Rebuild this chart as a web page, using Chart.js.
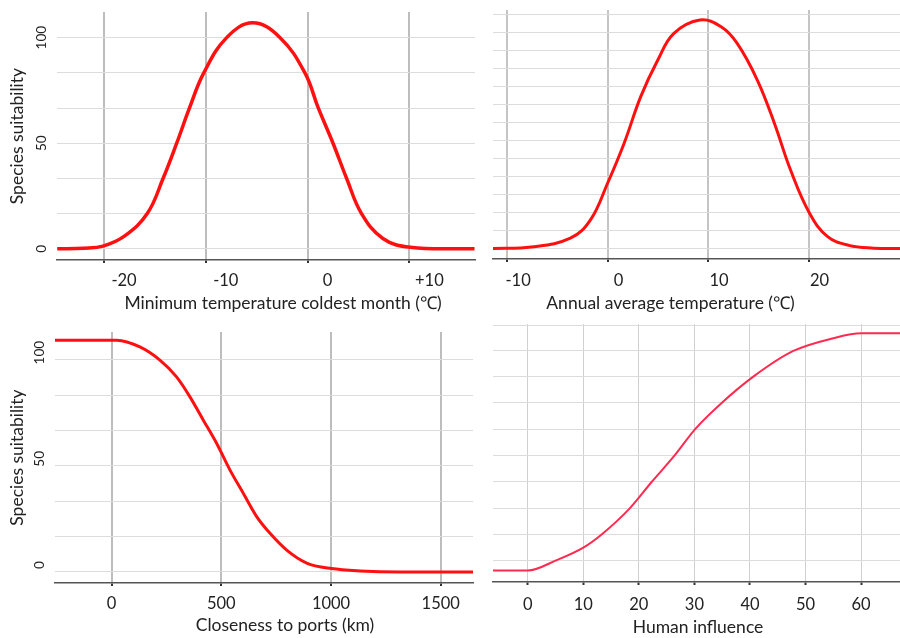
<!DOCTYPE html>
<html>
<head>
<meta charset="utf-8">
<script src="https://cdn.jsdelivr.net/npm/chart.js@4.4.1/dist/chart.umd.min.js"></script>
<style>
  body { margin: 0; background: #fff; }
  #wrap { position: relative; width: 900px; height: 638px; overflow: hidden; }
  #wrap canvas { position: absolute; }
</style>
</head>
<body>
<div id="wrap">
  <canvas id="c1" width="480" height="320" style="left:0;top:0"></canvas>
  <canvas id="c2" width="420" height="320" style="left:480px;top:0"></canvas>
  <canvas id="c3" width="480" height="318" style="left:0;top:320px"></canvas>
  <canvas id="c4" width="420" height="318" style="left:480px;top:320px"></canvas>
</div>
<script>
// Minimum temperature coldest month
const tminX = [-24.6, -22, -20.1, -18, -15.75, -14.2, -12.86, -11.6, -10.2, -7.95, -5.4, -2.7, -0.26, 1.05, 2.5, 3.84, 5.3, 7.4, 10.1, 16.4];
const tminY = [0, 0.3, 1.3, 6, 16.7, 33.3, 50, 66.7, 83.3, 100, 107, 100, 83.3, 66.7, 50, 33.3, 16.7, 4.9, 0.7, 0];
const tminTicks = [-20, -10, 0, 10];
const tminLabels = ['-20', '-10', '0', '+10'];

// Annual average temperature
const tavgX = [-11.4, -7.6, -3.7, -1.7, 0, 1.65, 3.3, 5.0, 6.6, 9.2, 11.3, 12.9, 14.9, 16.6, 18.2, 20.1, 21.9, 24, 26.5, 29.1];
const tavgY = [0, 0.7, 4.9, 13.5, 30.7, 49.5, 71.4, 88.6, 101.1, 107.4, 104.2, 96.4, 79.2, 58.9, 37, 16.6, 5.6, 1.5, 0.2, 0];
const tavgTicks = [-10, 0, 10, 20];
const tavgLabels = ['-10', '0', '10', '20'];

// Closeness to ports (km)
const portX = [-258, 23, 129, 220, 296, 357, 418, 479, 539, 600, 661, 722, 798, 889, 1003, 1132, 1315, 1647];
const portY = [109.2, 109.2, 106, 99.8, 91.9, 82.5, 71.5, 60.5, 48.1, 37.1, 26.1, 18.2, 10.3, 4.2, 1.6, 0.5, 0, 0];
const portTicks = [0, 500, 1000, 1500];
const portLabels = ['0', '500', '1000', '1500'];

// Human influence
const humanX = [-6.25, 0, 5.2, 10, 13.3, 18.4, 22.3, 26.4, 30.1, 34.9, 40.6, 47.8, 55, 60, 67];
const humanY = [0.5, 0.5, 5.4, 11.3, 17.5, 29.9, 42.2, 54.6, 67.0, 79.4, 91.8, 103.9, 109.9, 112.2, 112.2];
const humanTicks = [0, 10, 20, 30, 40, 50, 60];
const humanLabels = ['0', '10', '20', '30', '40', '50', '60'];

// suitability axis
const suitTicks = [0, 16.67, 33.33, 50, 66.67, 83.33, 100];
const suitLabels = ['0', '', '', '50', '', '', '100'];
const tavgGrid = [0, 8.45, 16.9, 25.35, 33.8, 42.25, 50.7, 59.15, 67.6, 76.05, 84.5, 92.95, 101.4, 109.85];
const humanGrid = [5.4, 17.5, 29.9, 42.2, 54.6, 67.0, 79.4, 91.8, 103.9, 116.1];

const FONT = 'Lato, "Open Sans", sans-serif';
const TEXT = '#222';

// caption under the x axis, shifted like in the original figure
const captionPlugin = {
    id: 'caption',
    afterDraw(chart, args, opts) {
        const ctx = chart.ctx;
        const ca = chart.chartArea;
        ctx.save();
        ctx.font = '17.5px ' + FONT;
        ctx.fillStyle = TEXT;
        ctx.textAlign = 'center';
        ctx.textBaseline = 'middle';
        ctx.fillText(opts.text, (ca.left + ca.right) / 2 + opts.dx, opts.y);
        ctx.restore();
    }
};

function makePanel(id, p) {
    const pts = p.xs.map((x, i) => ({ x: x, y: p.ys[i] }));
    return new Chart(document.getElementById(id), {
        type: 'scatter',
        data: {
            datasets: [{
                data: pts,
                showLine: true,
                borderColor: p.color,
                borderWidth: p.lineWidth,
                pointRadius: 0,
                tension: 0.4,
                cubicInterpolationMode: p.monotone ? 'monotone' : 'default'
            }]
        },
        options: {
            responsive: false,
            animation: false,
            devicePixelRatio: 1,
            layout: { padding: p.padding },
            plugins: {
                legend: { display: false },
                tooltip: { enabled: false },
                caption: { text: p.caption, dx: p.captionDx, y: p.captionY }
            },
            scales: {
                x: {
                    type: 'linear',
                    min: p.xMin,
                    max: p.xMax,
                    afterBuildTicks: s => { s.ticks = p.xTicks.map(v => ({ value: v })); },
                    afterFit: s => { s.height = p.xHeight; },
                    ticks: {
                        callback: (v, i) => p.xLabels[i],
                        font: { family: FONT, size: 16.5 },
                        color: TEXT,
                        padding: p.xPad,
                        labelOffset: p.labelOffset,
                        maxRotation: 0,
                        autoSkip: false
                    },
                    grid: {
                        color: p.vGrid,
                        lineWidth: p.vGridWidth,
                        drawTicks: true,
                        tickLength: 3,
                        tickColor: '#333',
                        tickWidth: 2
                    },
                    border: { display: true, color: '#555', width: 1.5 }
                },
                y: {
                    type: 'linear',
                    min: p.yMin,
                    max: p.yMax,
                    afterBuildTicks: s => { s.ticks = p.yTicks.map(v => ({ value: v })); },
                    afterFit: s => { s.width = p.yWidth; },
                    ticks: {
                        display: p.showY,
                        callback: (v, i) => p.yLabels ? p.yLabels[i] : '',
                        font: { family: FONT, size: 13.5 },
                        color: TEXT,
                        minRotation: 90,
                        maxRotation: 90,
                        crossAlign: 'center',
                        padding: 4,
                        labelOffset: p.yLabelOffset || 0,
                        autoSkip: false
                    },
                    grid: { color: '#dcdcdc', lineWidth: 1, drawTicks: false },
                    border: { display: false },
                    title: {
                        display: p.showY,
                        text: 'Species suitability',
                        font: { family: FONT, size: 17.5 },
                        color: TEXT,
                        padding: { top: 7, bottom: 0 }
                    }
                }
            }
        },
        plugins: [captionPlugin]
    });
}

makePanel('c1', {
    xs: tminX, ys: tminY, xTicks: tminTicks, xLabels: tminLabels,
    xMin: -24.62, xMax: 16.45, yMin: -5.3, yMax: 112.1,
    yTicks: suitTicks, yLabels: suitLabels, showY: true,
    color: '#ff1010', lineWidth: 3.5, vGrid: '#bdbdbd', vGridWidth: 2,
    padding: { top: 10, right: 5, left: 0, bottom: 0 },
    xHeight: 60, yWidth: 57, xPad: 8, labelOffset: 20,
    caption: 'Minimum temperature coldest month (℃)', captionDx: 17, captionY: 303
});

makePanel('c2', {
    xs: tavgX, ys: tavgY, xTicks: tavgTicks, xLabels: tavgLabels,
    xMin: -11.4, xMax: 29.1, yMin: -4.9, yMax: 112.1,
    yTicks: tavgGrid, yLabels: null, showY: false,
    color: '#ff1010', lineWidth: 3, vGrid: '#c4c4c4', vGridWidth: 2,
    padding: { top: 10, right: 0, left: 0, bottom: 0 },
    xHeight: 61, yWidth: 13, xPad: 9, labelOffset: 11,
    caption: 'Annual average temperature (℃)', captionDx: -26, captionY: 303
});

makePanel('c3', {
    xs: portX, ys: portY, xTicks: portTicks, xLabels: portLabels,
    xMin: -258, xMax: 1647, yMin: -5.2, yMax: 113, monotone: true,
    yTicks: suitTicks, yLabels: suitLabels, showY: true, yLabelOffset: -7,
    color: '#ff1010', lineWidth: 3, vGrid: '#bdbdbd', vGridWidth: 2,
    padding: { top: 12, right: 7, left: 0, bottom: 0 },
    xHeight: 55, yWidth: 55, xPad: 8, labelOffset: 0,
    caption: 'Closeness to ports (km)', captionDx: 21, captionY: 305
});

makePanel('c4', {
    xs: humanX, ys: humanY, xTicks: humanTicks, xLabels: humanLabels,
    xMin: -6.25, xMax: 67, yMin: -4.9, yMax: 116.6, monotone: true,
    yTicks: humanGrid, yLabels: null, showY: false,
    color: '#ff2a50', lineWidth: 2, vGrid: '#d0d0d0', vGridWidth: 1,
    padding: { top: 4, right: 0, left: 0, bottom: 0 },
    xHeight: 56, yWidth: 13, xPad: 10, labelOffset: 0,
    caption: 'Human influence', captionDx: 1.5, captionY: 307
});
</script>
</body>
</html>
